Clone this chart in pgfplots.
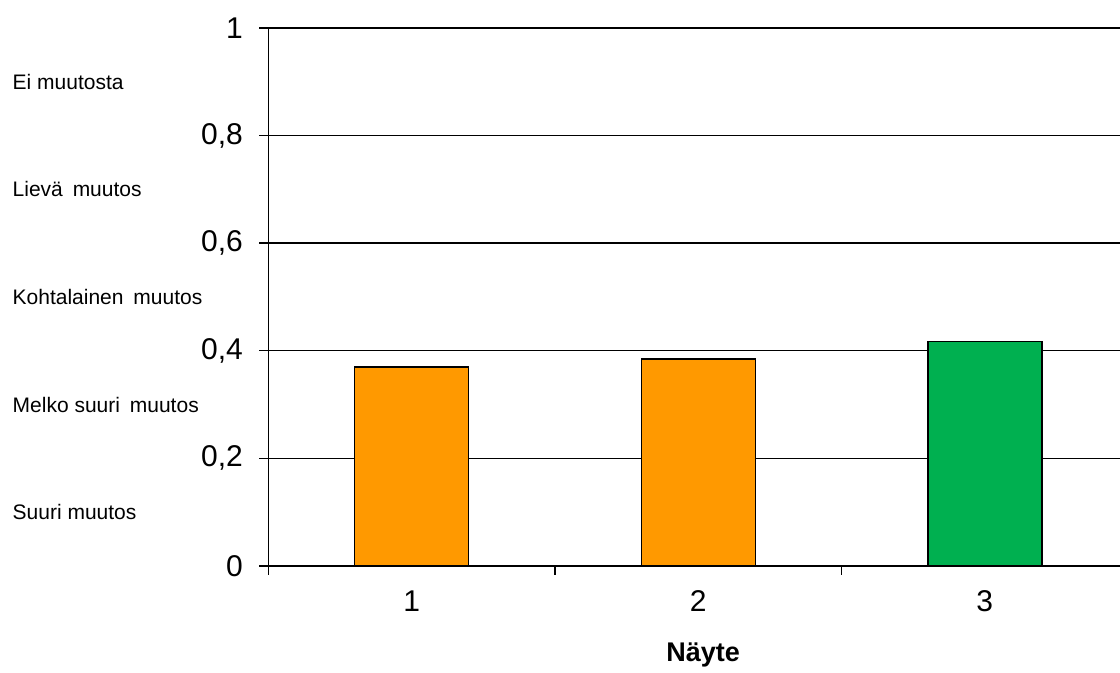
\documentclass[border=0pt]{standalone}
\usepackage{fontspec}
\setmainfont{Liberation Sans}
\usepackage{pgfplots}
\pgfplotsset{compat=1.18}
\definecolor{barorange}{RGB}{255,153,0}
\definecolor{bargreen}{RGB}{0,176,80}
\newcommand{\wsp}{\hspace{0.47em}}
\begin{document}
\begin{tikzpicture}
\begin{axis}[
  scale only axis,
  width=425.85pt, height=269pt,
  xmin=0.5, xmax=3.4717, ymin=0, ymax=1,
  axis x line*=bottom, axis y line*=left,
  ytick={0,0.2,0.4,0.6,0.8,1},
  ymajorgrids,
  grid style={black, line width=0.7pt},
  axis line style={black, line width=0.7pt},
  tick style={black, line width=0.7pt},
  tick align=outside,
  major tick length=4.5pt, minor tick length=4.5pt,
  xtick={1,2,3}, xticklabels={1,2,3},
  major x tick style={draw=none},
  minor xtick={0.5,1.5,2.5},
  /pgf/number format/use comma,
  /pgf/number format/assume math mode=true,
  ticklabel style={font=\fontsize{15}{17}\selectfont},
  yticklabel style={anchor=east, inner sep=0pt, xshift=-8pt},
  xticklabel style={anchor=north, inner sep=0pt, yshift=-7.5pt},
  ybar, bar width=57pt,
  clip=false,
]
\addplot[bar shift=0pt, draw=black, line width=0.7pt, fill=barorange] coordinates {(1,0.370)};
\addplot[bar shift=0pt, draw=black, line width=0.7pt, fill=barorange] coordinates {(2,0.385)};
\addplot[bar shift=0pt, draw=black, line width=0.7pt, fill=bargreen] coordinates {(3,0.417)};

% verbal scale beside the numeric axis
\begin{scope}[every node/.style={anchor=west, inner sep=0pt, font=\fontsize{10.5}{12}\selectfont}]
\node at ([xshift=-128pt]rel axis cs:0,0.9) {Ei muutosta};
\node at ([xshift=-128pt]rel axis cs:0,0.7) {Lievä\wsp muutos};
\node at ([xshift=-128pt]rel axis cs:0,0.5) {Kohtalainen\wsp muutos};
\node at ([xshift=-128pt]rel axis cs:0,0.3) {Melko suuri\wsp muutos};
\node at ([xshift=-128pt]rel axis cs:0,0.1) {Suuri muutos};
\end{scope}

\node[font=\bfseries\fontsize{13.5}{15}\selectfont] at ([xshift=2.5pt,yshift=-44.5pt]axis cs:2,0) {Näyte};
\coordinate (O) at (rel axis cs:0,0);
\end{axis}
\pgfresetboundingbox
\path[use as bounding box] (O) ++(-134.15pt,-53.5pt) rectangle ++(560pt,336.5pt);
\end{tikzpicture}
\end{document}
